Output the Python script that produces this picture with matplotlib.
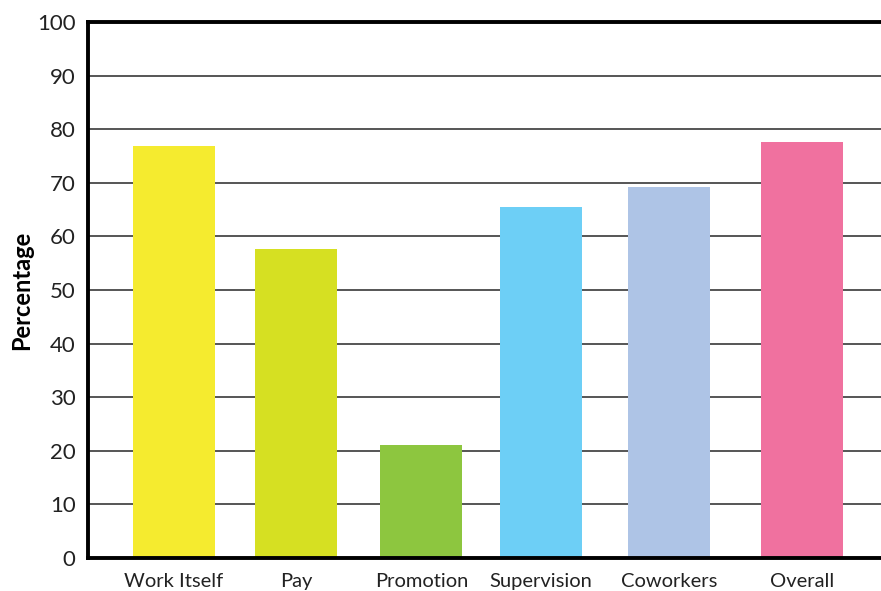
import matplotlib.pyplot as plt

# Job satisfaction facets, percent satisfied
categories = ['Work Itself', 'Pay', 'Promotion', 'Supervision', 'Coworkers', 'Overall']
percentages = [76.9, 57.6, 21.0, 65.4, 69.2, 77.6]
bar_colors = ['#F5EB2F', '#D6E022', '#8DC63F', '#6DCFF6', '#AEC4E6', '#F0719F']

# slightly uneven spacing of the columns
positions = [0, 0.97, 1.97, 2.92, 3.94, 5.0]

plt.rcParams['font.family'] = ['Lato', 'DejaVu Sans']

fig = plt.figure(figsize=(8.81, 5.91), dpi=100)
ax = fig.add_axes([88 / 881, 33 / 591, 793 / 881, 536 / 591])

ax.bar(positions, percentages, width=0.653, color=bar_colors, zorder=2)

ax.set_ylim(0, 100)
ax.set_xlim(-0.685, 5.63)
ax.set_yticks(range(0, 101, 10))
ax.set_xticks(positions)
ax.set_xticklabels(categories)

ax.yaxis.grid(True, color='#555555', linewidth=1.4, zorder=1)
ax.set_axisbelow(True)

for side in ['left', 'bottom', 'top']:
    ax.spines[side].set_linewidth(2.8)
    ax.spines[side].set_color('black')
ax.spines['right'].set_visible(False)

ax.tick_params(axis='y', length=0, pad=9, labelsize=16, labelcolor='#222222')
ax.tick_params(axis='x', length=0, pad=11, labelsize=14.5, labelcolor='#222222')

ax.set_ylabel('Percentage', fontsize=17, fontweight='bold', labelpad=3)

fig.savefig('out.png', dpi=100)
